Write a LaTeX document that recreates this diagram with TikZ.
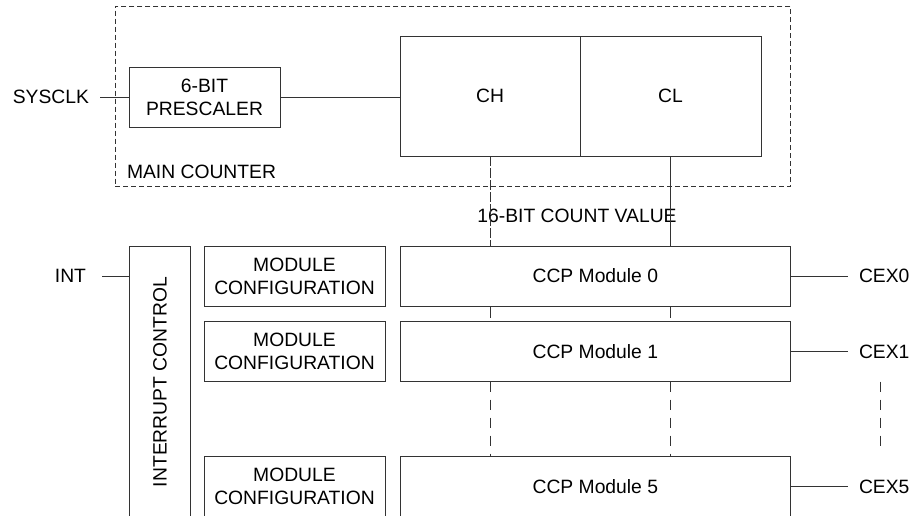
\documentclass[tikz,border=0pt]{standalone}
\usepackage{fontspec}
\setmainfont{Liberation Sans}
\begin{document}
\begin{tikzpicture}[x=1pt,y=-1pt,
  every node/.style={font=\fontsize{19.3}{23}\selectfont, text=black},
  box/.style={draw=black!80, line width=0.9pt, inner sep=0pt, outer sep=0pt, align=center},
  lbl/.style={inner sep=0pt, outer sep=0pt},
  wire/.style={draw=black!80, line width=0.9pt},
  maindash/.style={draw=black!80, line width=0.9pt, dash pattern=on 5pt off 3pt},
  longdash/.style={draw=black!80, line width=0.9pt, dash pattern=on 10pt off 2pt},
  sparsedash/.style={draw=black!80, line width=0.9pt, dash pattern=on 10pt off 8pt}]
\useasboundingbox (0,0) rectangle (913,515);
% main counter
\node[box, maindash, minimum width=675.7pt, minimum height=180pt] (main) at (452.85,96) {};
\node[lbl, anchor=west] (mainlbl) at (127,172) {MAIN COUNTER};
\node[box, minimum width=151pt, minimum height=60pt] (pre) at (204.5,97) {6-BIT\\PRESCALER};
\node[box, minimum width=180pt, minimum height=120pt] (ch) at (490,96) {CH};
\node[box, minimum width=181pt, minimum height=120pt] (cl) at (670.5,96) {CL};
\node[lbl, anchor=east] (sysclk) at (89,97) {SYSCLK};
\coordinate (sysend) at (100,97);
\draw[wire] (sysend) -- (pre.west);
\draw[wire] (pre.east) -- (pre.east -| ch.west);
% count value
\node[lbl] (cnt) at (577,216) {16-BIT COUNT VALUE};
% interrupt control
\node[box, minimum width=61pt, minimum height=284pt] (irq) at (159.5,388) {};
\node[lbl, rotate=90] (irqlbl) at (160,382) {INTERRUPT CONTROL};
\node[lbl, anchor=east] (int) at (86,276) {INT};
\coordinate (intend) at (102,276);
\draw[wire] (intend) -- (intend -| irq.west);
% module configuration
\foreach \i/\y in {0/276, 1/351.7, 5/486.7}{
  \node[box, minimum width=181pt, minimum height=60pt] (cfg\i) at (294.5,\y) {MODULE\\CONFIGURATION};
  \node[box, minimum width=390.7pt, minimum height=60pt] (ccp\i) at (595.35,\y) {CCP Module \i};
  \coordinate (cexend\i) at (848,\y);
  \node[lbl, anchor=west] (cex\i) at (859,\y) {CEX\i};
  \draw[wire] (ccp\i.east) -- (cexend\i);
}
% count value buses
\draw[longdash] (ch.south) -- (ch.south |- ccp0.north);
\draw[wire] (670,156) -- (670,246);
\draw[draw=black!80, line width=0.9pt, dash pattern=on 11.5pt off 4pt] (490,306.7) -- (490,321.7);
\draw[draw=black!80, line width=0.9pt, dash pattern=on 11.5pt off 4pt] (670,306.7) -- (670,321.7);
\draw[sparsedash] (490,381.7) -- (490,456.7);
\draw[sparsedash] (670,381.7) -- (670,456.7);
\coordinate (cexdots1) at (880,381.7);
\coordinate (cexdots2) at (880,451.7);
\draw[sparsedash] (cexdots1) -- (cexdots2);
\end{tikzpicture}
\end{document}
